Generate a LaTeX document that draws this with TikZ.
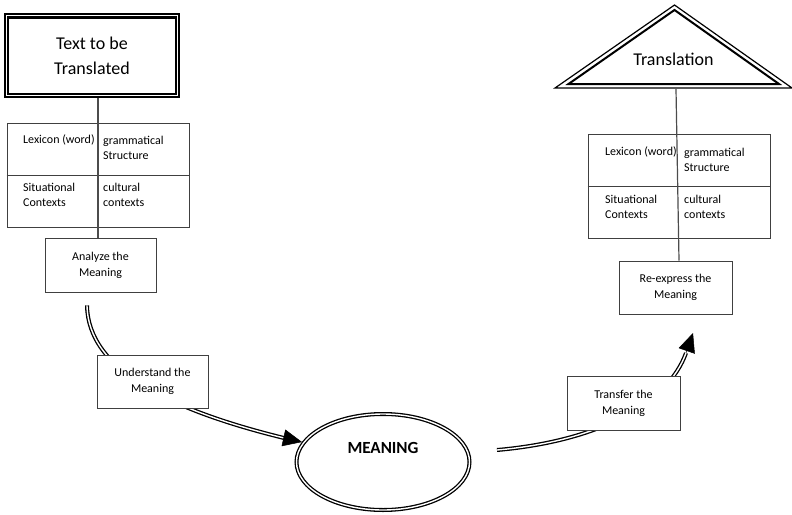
\documentclass[tikz,border=0pt]{standalone}
\usepackage{fontspec}
\setmainfont{Carlito}
\usetikzlibrary{shapes.geometric,arrows.meta,calc,backgrounds}
\begin{document}
\begin{tikzpicture}[x=1pt,y=-1pt,
  box/.style={draw=black!75, line width=0.8pt, fill=white, align=center,
    font=\fontsize{12}{16}\selectfont, inner sep=0pt},
  tbl/.style={draw=black!75, line width=0.8pt, inner sep=0pt},
  cell/.style={anchor=west, align=left, font=\fontsize{12}{15}\selectfont, inner sep=0pt},
  conn/.style={draw=black!70, line width=1.2pt},
  dbl/.style={draw=black, line width=1.3pt, double=white, double distance=1.4pt},
  headarrow/.style={-{Triangle[length=19pt,width=17pt]}, line width=0.5pt, draw=black}]
\useasboundingbox (0,0) rectangle (792,514);

% source box
\node (src) [draw=black, line width=1.2pt, minimum width=174pt, minimum height=83pt,
  align=center, font=\fontsize{18}{25}\selectfont, inner sep=0pt] at (92,55.5) {Text to be\\Translated};
\draw[line width=2.2pt] ($(src.north west)+(3.5,4)$) rectangle ($(src.south east)+(-3.5,-4)$);

% left table
\node (lt) [tbl, minimum width=182pt, minimum height=104pt] at (98,175) {};
\draw[line width=0.8pt, draw=black!75] (lt.west) -- (lt.east);
\node (l1) [cell] at (23,140) {Lexicon (word)};
\node (l2) [cell] at (103,147.5) {grammatical\\Structure};
\node (l3) [cell] at (23,194.5) {Situational\\Contexts};
\node (l4) [cell] at (103,194.5) {cultural\\contexts};

\node (an) [box, minimum width=111pt, minimum height=54pt] at (100.5,265) {Analyze the\\Meaning};
\draw[conn] ([xshift=6]src.south) -- ([xshift=6]src.south |- an.north);

\node (un) [box, minimum width=111pt, minimum height=53pt] at (152.5,381.5) {Understand the\\Meaning};

% meaning ellipse
\node (m) [ellipse, dbl, minimum width=173pt, minimum height=96pt, inner sep=0pt] at (383,462) {};
\node (mt) [font=\fontsize{17}{20}\selectfont\bfseries, inner sep=0pt] at (383,448) {MEANING};

\node (tr) [box, minimum width=113pt, minimum height=54pt] at (623.5,403) {Transfer the\\Meaning};

% right side
\node (re) [box, minimum width=113pt, minimum height=53pt] at (675.5,287.5) {Re-express the\\Meaning};
\node (rt) [tbl, minimum width=182pt, minimum height=104pt] at (679,186) {};
\draw[line width=0.8pt, draw=black!75] (rt.west) -- (rt.east);
\node (r1) [cell] at (605,152) {Lexicon (word)};
\node (r2) [cell] at (684,159.5) {grammatical\\Structure};
\node (r3) [cell] at (605,206.5) {Situational\\Contexts};
\node (r4) [cell] at (684,206.5) {cultural\\contexts};

% translation triangle
\node (tt) [font=\fontsize{18}{22}\selectfont, inner sep=0pt] at (673.5,59) {Translation};
\coordinate (ta) at (674.5,5);
\coordinate (tl) at (555,88);
\coordinate (tr2) at (792,88);
\draw[line width=1.2pt, line join=miter] (ta) -- (tl) -- (tr2) -- cycle;
\draw[line width=2pt, line join=miter] (674.5,10) -- (568.5,84) -- (779,84) -- cycle;
\coordinate (tb) at (676,89);
\draw[conn] (tb) -- ([xshift=3.5]re.north);

% curved double arrows
\coordinate (e1) at (284,438);
\coordinate (t1) at (302,442);
\coordinate (s2) at (497,450);
\coordinate (e2) at (686,353);
\coordinate (t2) at (693,333);
\begin{scope}[on background layer]
\draw[dbl] ($(an.south)+(-13.5,13)$) .. controls (88,370) and (170,410) .. (e1);
\draw[dbl] (s2) .. controls (600,441) and (668,403) .. (e2);
\end{scope}
\draw[headarrow] (e1) -- (t1);
\draw[headarrow] (e2) -- (t2);
\end{tikzpicture}
\end{document}
